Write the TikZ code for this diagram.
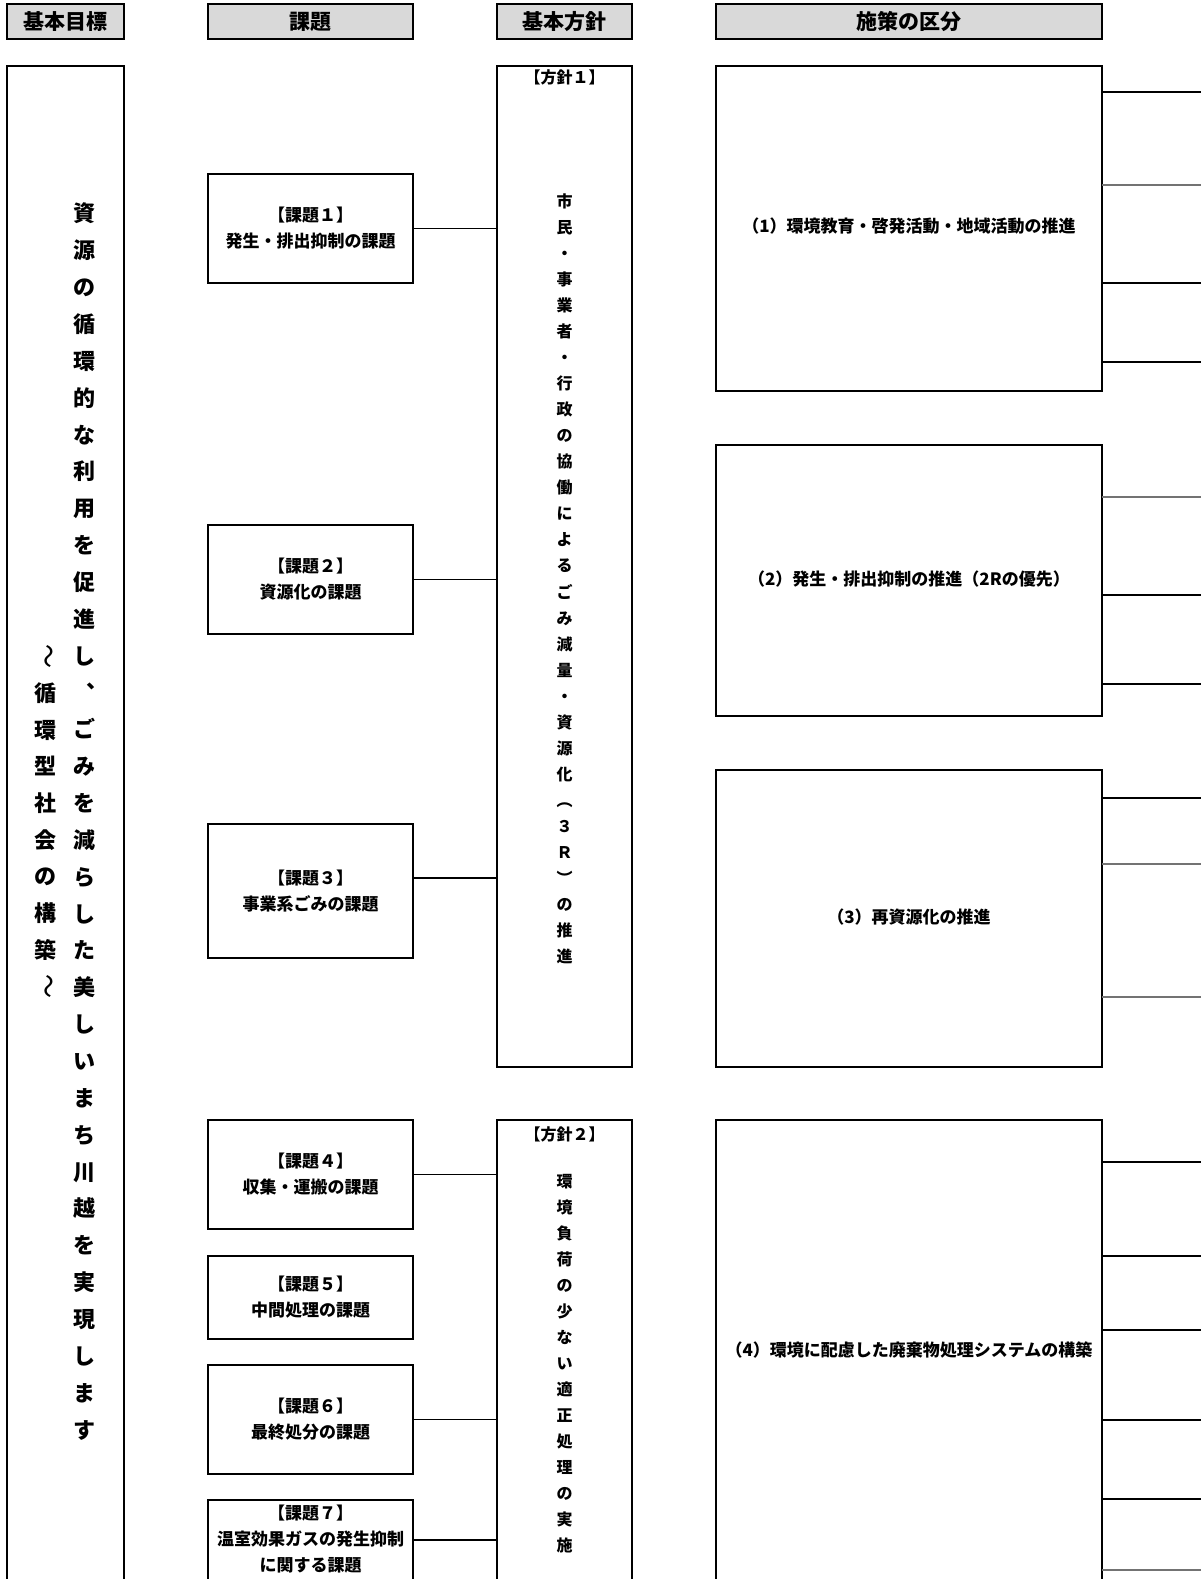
\documentclass[tikz,border=0pt]{standalone}
\usepackage{fontspec}
\setmainfont{Noto Sans CJK JP}
\usetikzlibrary{shadows}
\definecolor{hdrgray}{RGB}{217,217,217}
\begin{document}
\begin{tikzpicture}[x=1pt,y=-1pt,
  box/.style={draw, line width=2.2pt, outer sep=0pt, inner sep=0pt, align=center},
  hdr/.style={draw, line width=1.5pt, fill=hdrgray, outer sep=0pt, inner sep=0pt,
    font=\bfseries\fontsize{21}{25}\selectfont, minimum height=35,
    drop shadow={shadow xshift=1.2pt, shadow yshift=-1.2pt, fill=black, opacity=1}},
  kt/.style={font=\bfseries\fontsize{17}{26}\selectfont},
  mt/.style={font=\bfseries\fontsize{17}{20}\selectfont},
  conn/.style={line width=1.9pt},
  stubthin/.style={line width=1.3pt},
  stubthick/.style={line width=2.2pt},
  stubgray/.style={line width=1.7pt, draw=black!55},
  vmain/.style={align=center, inner sep=0pt, font=\bfseries\fontsize{22}{36.85}\selectfont},
  vsub/.style={align=center, inner sep=0pt, font=\bfseries\fontsize{22}{36.7}\selectfont},
  wave/.style={rotate=-90, yscale=1.25, inner sep=0pt, font=\fontsize{24}{26}\selectfont},
  vpol/.style={align=center, inner sep=0pt, font=\bfseries\fontsize{16}{26.05}\selectfont},
  plab/.style={inner sep=0pt, font=\bfseries\fontsize{16}{20}\selectfont}]
\useasboundingbox (0,0) rectangle (1201,1579);
\clip (0,0) rectangle (1201,1579);
\fill[white] (0,0) rectangle (1201,1579);

% headers
\node[hdr, minimum width=117] (h1) at (65.5,21.5) {基本目標};
\node[hdr, minimum width=205] (h2) at (310.5,21.5) {課題};
\node[hdr, minimum width=135] (h3) at (564.5,21.5) {基本方針};
\node[hdr, minimum width=386] (h4) at (909,21.5) {施策の区分};

% basic goal column
\node[box, minimum width=117, minimum height=1529] (goal) at (65.5,830.5) {};
\node[vmain] (goaltext) at (84.6,821.5) {資\\源\\の\\循\\環\\的\\な\\利\\用\\を\\促\\進\\し\\︑\\ご\\み\\を\\減\\ら\\し\\た\\美\\し\\い\\ま\\ち\\川\\越\\を\\実\\現\\し\\ま\\す};
\node[vsub] (subtext) at (45.3,821.5) {循\\環\\型\\社\\会\\の\\構\\築};
\node[wave] (wave1) at (45.3,656.4) {〜};
\node[wave] (wave2) at (45.3,986.6) {〜};

% issues
\node[box, minimum width=205, minimum height=109, kt] (k1) at (310.5,228.5) {【課題１】\\発生・排出抑制の課題};
\node[box, minimum width=205, minimum height=109, kt] (k2) at (310.5,579.5) {【課題２】\\資源化の課題};
\node[box, minimum width=205, minimum height=134, kt] (k3) at (310.5,891) {【課題３】\\事業系ごみの課題};
\node[box, minimum width=205, minimum height=109, kt] (k4) at (310.5,1174.5) {【課題４】\\収集・運搬の課題};
\node[box, minimum width=205, minimum height=83, kt] (k5) at (310.5,1297.5) {【課題５】\\中間処理の課題};
\node[box, minimum width=205, minimum height=109, kt] (k6) at (310.5,1419.5) {【課題６】\\最終処分の課題};
\node[box, minimum width=205, minimum height=95] (k7) at (310.5,1547.5) {};
\node[kt, align=center, inner sep=0pt] (k7text) at (310.5,1539) {【課題７】\\温室効果ガスの発生抑制\\に関する課題};

% policies
\node[box, minimum width=135, minimum height=1001] (p1) at (564.5,566.5) {};
\node[plab] (p1lab) at (564.5,77.5) {【方針１】};
\node[vpol] (p1text) at (564.5,578.8) {市\\民\\・\\事\\業\\者\\・\\行\\政\\の\\協\\働\\に\\よ\\る\\ご\\み\\減\\量\\・\\資\\源\\化\\︵\\３\\Ｒ\\︶\\の\\推\\進};
\node[box, minimum width=135, minimum height=475] (p2) at (564.5,1357.5) {};
\node[plab] (p2lab) at (564.5,1134.6) {【方針２】};
\node[vpol] (p2text) at (564.5,1363.6) {環\\境\\負\\荷\\の\\少\\な\\い\\適\\正\\処\\理\\の\\実\\施};

% measures
\node[box, minimum width=386, minimum height=325] (m1) at (909,228.5) {};
\node[mt] at (909,226.5) {（1）環境教育・啓発活動・地域活動の推進};
\node[box, minimum width=386, minimum height=271] (m2) at (909,580.5) {};
\node[mt] at (909,579) {（2）発生・排出抑制の推進（2Rの優先）};
\node[box, minimum width=386, minimum height=297] (m3) at (909,918.5) {};
\node[mt] at (909,917) {（3）再資源化の推進};
\node[box, minimum width=386, minimum height=475] (m4) at (909,1357.5) {};
\node[mt] at (909,1350) {（4）環境に配慮した廃棄物処理システムの構築};

% connectors issues -> policies
\draw[conn] (k1.east) -- (k1.east -| p1.west);
\draw[conn] (k2.east) -- (k2.east -| p1.west);
\draw[conn] ([yshift=13pt]k3.east) -- ([yshift=13pt]k3.east -| p1.west);
\draw[conn] (k4.east) -- (k4.east -| p2.west);
\draw[conn] (k6.east) -- (k6.east -| p2.west);
\draw[conn] ([yshift=7.5pt]k7.east) -- ([yshift=7.5pt]k7.east -| p2.west);

% stubs to the right
\coordinate (edge) at (1203,0);
\draw[stubthin]  (m1.east |- 0,92)   -- (edge |- 0,92);
\draw[stubgray]  (m1.east |- 0,185)  -- (edge |- 0,185);
\draw[stubthick] (m1.east |- 0,283)  -- (edge |- 0,283);
\draw[stubthick] (m1.east |- 0,362)  -- (edge |- 0,362);
\draw[stubgray]  (m2.east |- 0,497)  -- (edge |- 0,497);
\draw[stubthin]  (m2.east |- 0,595)  -- (edge |- 0,595);
\draw[stubthin]  (m2.east |- 0,684)  -- (edge |- 0,684);
\draw[stubthin]  (m3.east |- 0,798)  -- (edge |- 0,798);
\draw[stubgray]  (m3.east |- 0,864)  -- (edge |- 0,864);
\draw[stubgray]  (m3.east |- 0,997)  -- (edge |- 0,997);
\draw[stubthin]  (m4.east |- 0,1162) -- (edge |- 0,1162);
\draw[stubthick] (m4.east |- 0,1256) -- (edge |- 0,1256);
\draw[stubthick] (m4.east |- 0,1330) -- (edge |- 0,1330);
\draw[stubthick] (m4.east |- 0,1420) -- (edge |- 0,1420);
\draw[stubthick] (m4.east |- 0,1499) -- (edge |- 0,1499);
\draw[stubgray]  (m4.east |- 0,1570) -- (edge |- 0,1570);
\end{tikzpicture}
\end{document}
